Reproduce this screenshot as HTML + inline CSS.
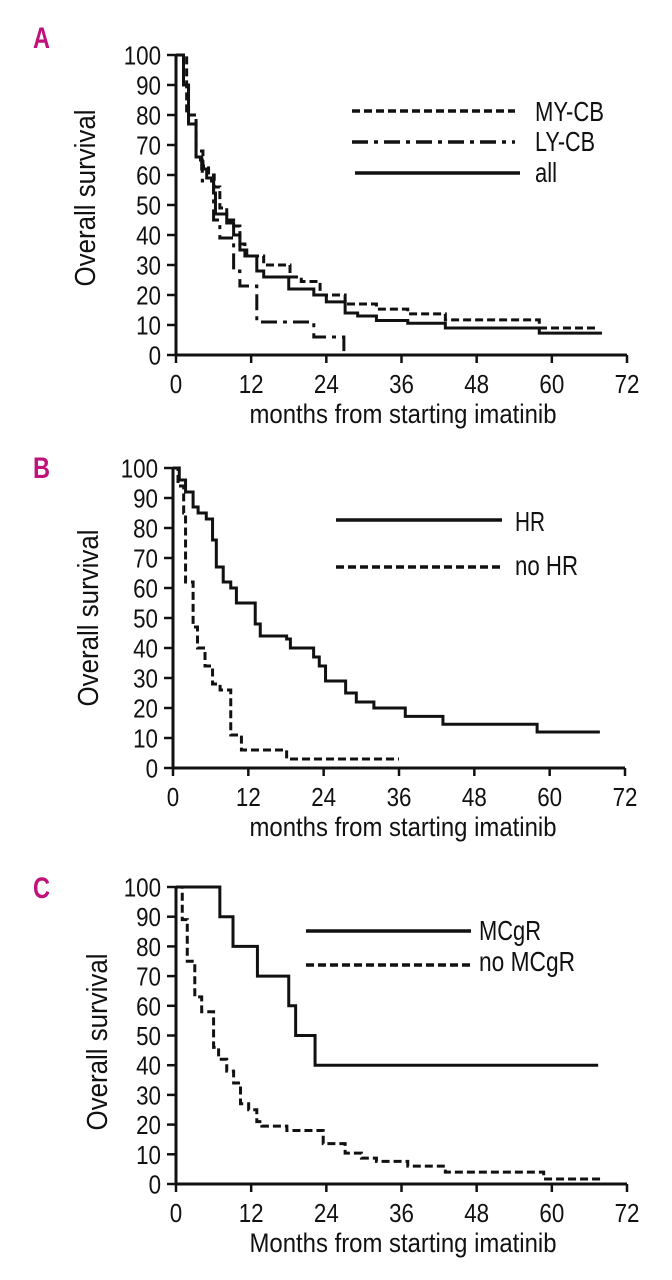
<!DOCTYPE html>
<html><head><meta charset="utf-8"><style>
html,body{margin:0;padding:0;background:#fff;}
svg{display:block;}
text{font-family:"Liberation Sans",sans-serif;fill:#111;}
</style></head><body>
<svg id="fig" width="672" height="1280" viewBox="0 0 672 1280" xmlns="http://www.w3.org/2000/svg"></svg>
<script>
// ---- Panel A data ----
const aAllT = [0,1.2,2,3.2,4.1,4.9,6,6.3,8.1,9.2,10.2,11.3,12.9,14,18,22,24,27,29,32,37,43,58];
const aAllV = [100,90,77,66,62,59,54,47,44,40,35,33,28,26,22,20,17.7,14,13,11.5,10.6,9,7.3];
const aAllEnd = 68;
const aMyT = [0,1.7,3.2,4.3,5.2,6.1,7,8.1,9.2,10.2,11,14,18.2,20,23,27,32,37,43,58];
const aMyV = [100,80,68,63,60,56,49,45,43,37,33,30,26,24.5,20,17,15.3,13.7,11.7,9];
const aMyEnd = 67.5;
const aLyT = [0,1.2,2,3.2,4.2,6,7,9.2,10.2,12.9,22,26.8];
const aLyV = [100,90,78,65,58,45,39,28,23,11,6,1];
const aLyEnd = 26.9;
// ---- Panel B data ----
const bHrT = [0,1,2,3.2,4,5.3,6.3,6.9,8,9.2,10.1,13.1,13.9,18.1,18.7,22.4,23.3,24.3,27.5,29.2,32,37,43,58];
const bHrV = [100,96,92,87,85,83,76,67,62,60,55,48,44,43,40,37,34,29,25,22,20,17.2,14.6,12];
const bHrEnd = 68;
const bNoT = [0,0.8,1.7,2,3.2,3.9,5.1,6.3,7.5,9.2,10.9,18.1];
const bNoV = [100,94,85,62,47,40,34,28,26,11,6,3];
const bNoEnd = 36;
// ---- Panel C data ----
const cMcT = [0,7,9.1,13,18,19.1,22.2];
const cMcV = [100,90,80,70,60,50,40];
const cMcEnd = 67.4;
const cNoT = [0,1,1.8,3,4.1,6,6.8,8.1,9.2,10.3,11.6,12.9,13.7,17.7,23.5,27,29.6,32,37,43,58.7];
const cNoV = [100,89,75,63,58,46,42,38,34,27,25,21,19.5,18,13.6,10.4,8.7,7.6,6,4,1.7];
const cNoEnd = 68;
// ---- ticks ----
const xTicks = [0,12,24,36,48,60,72];
const yTicks = [0,10,20,30,40,50,60,70,80,90,100];

const NS = "http://www.w3.org/2000/svg";
const svg = document.getElementById('fig');
function mk(tag, attrs, parent){
  const e = document.createElementNS(NS, tag);
  for (const k in attrs) e.setAttribute(k, attrs[k]);
  (parent||svg).appendChild(e);
  return e;
}
function panel(p){
  const g = mk('g', {});
  
  
  const sx = t => p.x0 + (p.x72 - p.x0) * t / 72;
  const sy = v => p.y0 - (p.y0 - p.y100) * v / 100;
  // label
  const lab = mk('text', {x:33, y:p.labY, 'font-size':30, 'font-weight':'bold', fill:'#c0127a', style:'fill:#c0127a', textLength:17, lengthAdjust:'spacingAndGlyphs'}, g);
  lab.textContent = p.label;
  
  
  // axes
  const ax = mk('path', {d:`M${p.x0},${sy(100)} L${p.x0},${p.y0} L${p.x72},${p.y0}`, fill:'none', stroke:'#111', 'stroke-width':3}, g);
  
  
  yTicks.forEach(v => {
    const y = sy(v);
    mk('line', {x1:p.x0-9, x2:p.x0, y1:y, y2:y, stroke:'#111', 'stroke-width':2.5}, g);
    const t = mk('text', {x:0, y:0, 'font-size':26, 'text-anchor':'end', transform:`translate(${p.x0-15},${y+9.5}) scale(0.86,1)`}, g);
    t.textContent = v;
    
    
  });
  xTicks.forEach(m => {
    const x = sx(m);
    mk('line', {x1:x, x2:x, y1:p.y0, y2:p.y0+8, stroke:'#111', 'stroke-width':2.5}, g);
    const t = mk('text', {x:0, y:0, 'font-size':26, 'text-anchor':'middle', transform:`translate(${x},${p.y0+38}) scale(0.86,1)`}, g);
    t.textContent = m;
    
    
  });
  const xt = mk('text', {x:403, y:p.y0+68, 'font-size':27, 'text-anchor':'middle', textLength:307, lengthAdjust:'spacingAndGlyphs'}, g);
  xt.textContent = p.xTitle;
  
  
  const yt = mk('text', {x:0, y:0, 'font-size':29, 'text-anchor':'middle', textLength:177, lengthAdjust:'spacingAndGlyphs', transform:`translate(${p.ytx},${p.yty}) rotate(-90)`}, g);
  yt.textContent = 'Overall survival';
  
  
  // series
  p.series.forEach(s => {
    let d = `M${sx(s.t[0])},${sy(s.v[0])}`;
    for (let i = 1; i < s.t.length; i++) {
      d += ` L${sx(s.t[i])},${sy(s.v[i-1])} L${sx(s.t[i])},${sy(s.v[i])}`;
    }
    d += ` L${sx(s.end)},${sy(s.v[s.v.length-1])}`;
    const path = mk('path', {d:d, fill:'none', stroke:'#111', 'stroke-width':3, 'stroke-dasharray':s.dash||'none'}, g);
    
    
    const ll = mk('line', {x1:s.lx1, x2:s.lx2, y1:s.ly, y2:s.ly, stroke:'#111', 'stroke-width':3.5, 'stroke-dasharray':s.dash||'none'}, g);
    
    
    const lt = mk('text', {x:s.tx, y:s.tb, 'font-size':28, textLength:s.tw, lengthAdjust:'spacingAndGlyphs'}, g);
    lt.textContent = s.label;
    
    
  });
}
panel({name:'panel-a', label:'A', labY:48, x0:176, x72:627, y0:355, y100:55, xTitle:'months from starting imatinib', ytx:95, yty:198,
  series:[
    {id:'my-cb', t:aMyT, v:aMyV, end:aMyEnd, dash:'8 4', label:'MY-CB', lx1:352, lx2:515, ly:111, tx:535, tb:121, tw:69},
    {id:'ly-cb', t:aLyT, v:aLyV, end:aLyEnd, dash:'16 6 4 6', label:'LY-CB', lx1:352, lx2:515, ly:142, tx:535, tb:151, tw:60},
    {id:'all', t:aAllT, v:aAllV, end:aAllEnd, label:'all', lx1:355, lx2:520, ly:173, tx:535, tb:182, tw:22}
  ]});
panel({name:'panel-b', label:'B', labY:478, x0:173, x72:625, y0:768, y100:468, xTitle:'months from starting imatinib', ytx:98, yty:618,
  series:[
    {id:'hr', t:bHrT, v:bHrV, end:bHrEnd, label:'HR', lx1:336, lx2:502, ly:520, tx:515, tb:531, tw:30},
    {id:'no-hr', t:bNoT, v:bNoV, end:bNoEnd, dash:'8 4', label:'no HR', lx1:336, lx2:502, ly:567, tx:515, tb:575, tw:63}
  ]});
panel({name:'panel-c', label:'C', labY:898, x0:176, x72:627, y0:1184, y100:887, xTitle:'Months from starting imatinib', ytx:107, yty:1042,
  series:[
    {id:'mcgr', t:cMcT, v:cMcV, end:cMcEnd, label:'MCgR', lx1:306, lx2:471, ly:931, tx:479, tb:940, tw:62},
    {id:'no-mcgr', t:cNoT, v:cNoV, end:cNoEnd, dash:'8 4', label:'no MCgR', lx1:306, lx2:471, ly:965, tx:479, tb:971, tw:96}
  ]});
</script>
</body></html>
